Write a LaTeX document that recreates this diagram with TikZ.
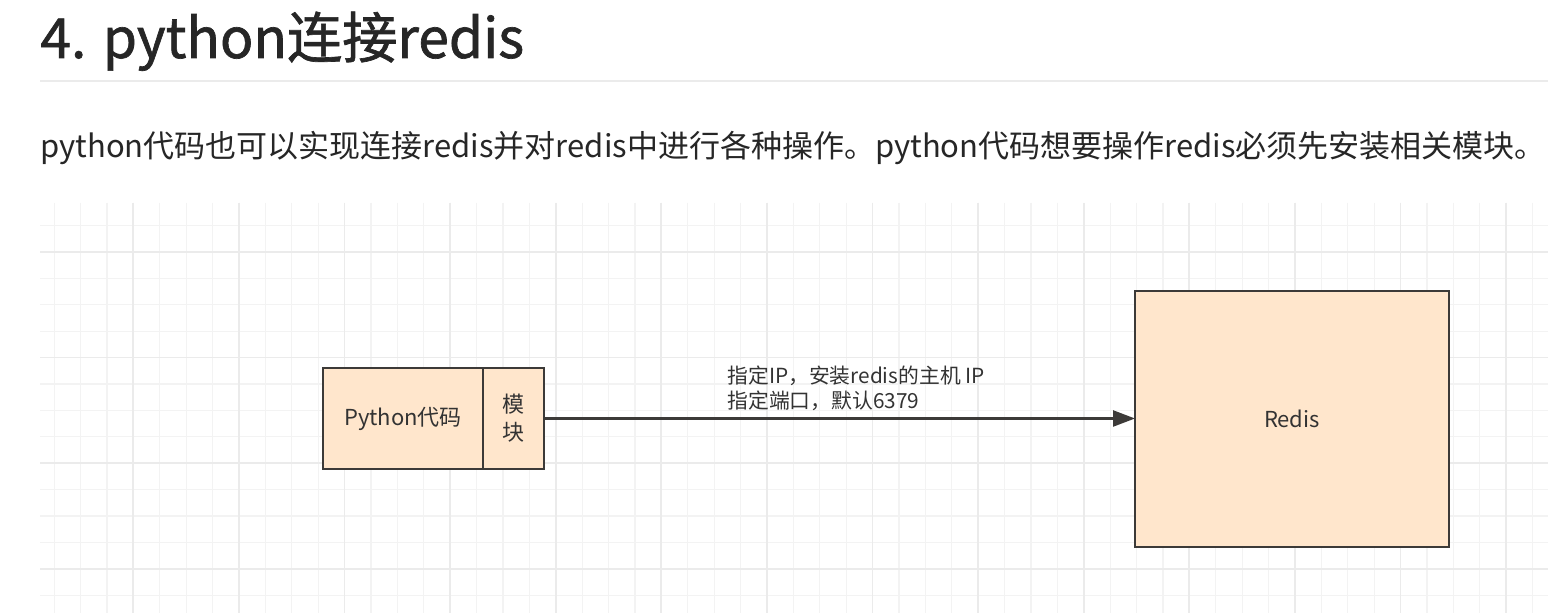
\documentclass[tikz,border=0pt]{standalone}
\usepackage{fontspec}
\setmainfont{Noto Sans CJK SC}
\newfontfamily\titlefont[FakeBold=1.2]{Noto Sans CJK SC}
\usetikzlibrary{arrows.meta}
\definecolor{peach}{HTML}{FFE6CC}
\definecolor{edge}{HTML}{3C3A38}
\definecolor{txt}{HTML}{333333}
\definecolor{gminor}{HTML}{F3F3F3}
\definecolor{gmajor}{HTML}{EBEBEB}
\tikzset{
  gridminor/.style={draw=gminor, line width=0.6pt},
  gridmajor/.style={draw=gmajor, line width=0.9pt},
  box/.style={draw=edge, fill=peach, line width=1.4pt, inner sep=0pt, outer sep=0pt, text=txt, font=\fontsize{11}{13}\selectfont},
  arr/.style={draw=edge, line width=1.2pt, -{Triangle[length=11pt,width=8pt]}},
}
\begin{document}
\begin{tikzpicture}[x=0.5pt,y=-0.5pt]
\useasboundingbox[fill=white] (0,0) rectangle (1548,613);
% title
\node[anchor=base west, inner sep=0pt, text=black!85, font=\titlefont\fontsize{27.6}{32}\selectfont] (title) at (40,58) {4. python连接redis};
\draw[draw=gmajor, line width=1pt] (40,81) -- (1548,81);
% paragraph
\node[anchor=base west, inner sep=0pt, text=black!85, font=\fontsize{15.5}{18}\selectfont] (para) at (40,158) {python代码也可以实现连接redis并对redis中进行各种操作。python代码想要操作redis必须先安装相关模块。};
% grid
\begin{scope}
\clip (40,203) rectangle (1548,613);
\foreach \i in {0,...,57} { \pgfmathsetmacro\xx{54.1+26.4*\i} \draw[gridminor] (\xx,203) -- (\xx,613); }
\foreach \j in {0,...,15} { \pgfmathsetmacro\yy{225.6+26.4*\j} \draw[gridminor] (40,\yy) -- (1548,\yy); }
\foreach \i in {0,...,14} { \pgfmathsetmacro\xx{133.3+105.6*\i} \draw[gridmajor] (\xx,203) -- (\xx,613); }
\foreach \j in {0,...,3} { \pgfmathsetmacro\yy{252+105.6*\j} \draw[gridmajor] (40,\yy) -- (1548,\yy); }
\end{scope}
% boxes
\node[box, minimum width=80pt, minimum height=50.5pt] (py) at (403,418.5) {Python代码};
\node[box, minimum width=30.5pt, minimum height=50.5pt, align=center, font=\fontsize{11}{14}\selectfont] (mod) at (513.5,418.5) {模\\块};
\node[box, minimum width=157pt, minimum height=128pt] (redis) at (1292,419) {Redis};
% connector
\draw[arr] (mod.east) -- (mod.east -| redis.west);
\node[anchor=west, inner sep=0pt, align=left, text=txt, font=\fontsize{10.4}{12.5}\selectfont] (lbl) at (727,388) {指定IP，安装redis的主机 IP\\指定端口，默认6379};
\end{tikzpicture}
\end{document}
